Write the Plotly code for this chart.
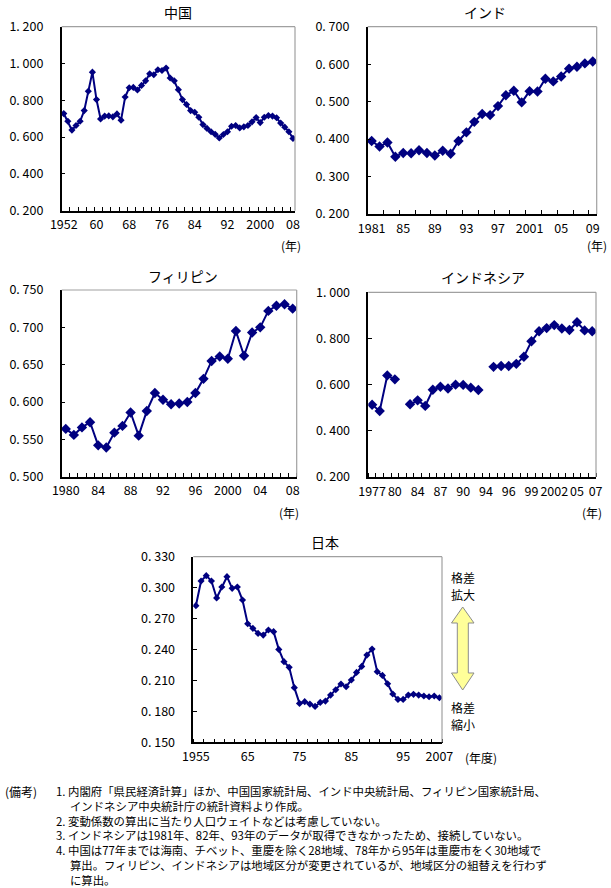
import plotly.graph_objects as go

W, H = 611, 888
NAVY = "#000080"
FONT = "Noto Sans CJK JP"

# ---------------- data ----------------
china_years = list(range(1952, 2009))
china_cv = [0.728, 0.686, 0.638, 0.663, 0.686, 0.744, 0.849, 0.953, 0.804, 0.699,
            0.714, 0.715, 0.710, 0.726, 0.692, 0.818, 0.868, 0.870, 0.856, 0.881,
            0.906, 0.944, 0.939, 0.966, 0.962, 0.975,
            0.921, 0.906, 0.858, 0.804, 0.777, 0.744, 0.735, 0.708, 0.668, 0.647,
            0.629, 0.615, 0.595,
            0.614, 0.629, 0.659, 0.663, 0.650, 0.656, 0.663, 0.683, 0.706, 0.679,
            0.708, 0.717, 0.714, 0.705, 0.676, 0.654, 0.629, 0.593]
china_tickvals = [1952, 1960, 1968, 1976, 1984, 1992, 2000, 2008]
china_ticktext = ["1952", "60", "68", "76", "84", "92", "2000", "08"]

india_years = list(range(1981, 2010))
india_cv = [0.395, 0.380, 0.391, 0.353, 0.363, 0.362, 0.370, 0.363, 0.356, 0.369,
            0.361, 0.395, 0.418, 0.446, 0.467, 0.464, 0.488, 0.517, 0.529, 0.498,
            0.528, 0.527, 0.561, 0.554, 0.567, 0.588, 0.593, 0.602, 0.607]
india_tickvals = [1981, 1985, 1989, 1993, 1997, 2001, 2005, 2009]
india_ticktext = ["1981", "85", "89", "93", "97", "2001", "05", "09"]

phil_years = list(range(1980, 2009))
phil_cv = [0.564, 0.556, 0.566, 0.573, 0.542, 0.539, 0.559, 0.568, 0.586, 0.555,
           0.588, 0.612, 0.603, 0.597, 0.598, 0.600, 0.612, 0.631, 0.655, 0.661,
           0.658, 0.695, 0.662, 0.693, 0.700, 0.722, 0.729, 0.731, 0.725]
phil_tickvals = [1980, 1984, 1988, 1992, 1996, 2000, 2004, 2008]
phil_ticktext = ["1980", "84", "88", "92", "96", "2000", "04", "08"]

# Indonesia: one category slot per observation; None = missing data (not connected)
indo_slots = list(range(30))
indo_cv = [0.513, 0.486, 0.640, 0.623, None,
           0.515, 0.532, 0.508, 0.578, 0.591, 0.583, 0.600, 0.599, 0.587, 0.577,
           None,
           0.677, 0.681, 0.681, 0.690, 0.721, 0.788, 0.831, 0.845, 0.858, 0.843,
           0.837, 0.870, 0.835, 0.831]
indo_tickvals = [0, 3, 6, 9, 12, 15, 18, 21, 24, 27, 29.45]
indo_ticktext = ["1977", "80", "84", "87", "90", "94", "96", "99", "2002", "05", "07"]

japan_slots = list(range(48))
japan_cv = [0.2825, 0.3064, 0.3116, 0.3064, 0.2900, 0.3006, 0.3106, 0.2993, 0.3006, 0.2880,
            0.2650, 0.2605, 0.2556, 0.2540, 0.2589, 0.2573, 0.2401, 0.2282, 0.2227, 0.2030,
            0.1877, 0.1894, 0.1871, 0.1848, 0.1887, 0.1900, 0.1958, 0.2010, 0.2065, 0.2039,
            0.2104, 0.2178, 0.2236, 0.2346, 0.2404, 0.2185, 0.2149, 0.2068, 0.1968, 0.1916,
            0.1916, 0.1958, 0.1965, 0.1958, 0.1949, 0.1942, 0.1949, 0.1932]
japan_tickvals = [0, 10, 20, 30, 40, 47]
japan_ticktext = ["1955", "65", "75", "85", "95", "2007"]

notes_head = "(備考)"
notes_lines = [
    "1. 内閣府「県民経済計算」ほか、中国国家統計局、インド中央統計局、フィリピン国家統計局、",
    "　 インドネシア中央統計庁の統計資料より作成。",
    "2. 変動係数の算出に当たり人口ウェイトなどは考慮していない。",
    "3. インドネシアは1981年、82年、93年のデータが取得できなかったため、接続していない。",
    "4. 中国は77年までは海南、チベット、重慶を除く28地域、78年から95年は重慶市をく30地域で",
    "　 算出。フィリピン、インドネシアは地域区分が変更されているが、地域区分の組替えを行わず",
    "　 に算出。",
]


def px(x):
    return x / W


def py(y):
    return 1 - y / H


panels = [
    dict(title="中国", x=china_years, y=china_cv, box=(61.7, 26.7, 295.0, 210.7),
         yr=(0.2, 1.2), dy=0.2, tv=china_tickvals, tt=china_ticktext, md=2, ms=5.5,
         unit="(年)", upos=(291, 246), tpos=(178, 12)),
    dict(title="インド", x=india_years, y=india_cv, box=(367.7, 26.7, 596.7, 214.0),
         yr=(0.2, 0.7), dy=0.1, tv=india_tickvals, tt=india_ticktext, md=2, ms=8,
         unit="(年)", upos=(597, 245), tpos=(485, 12)),
    dict(title="フィリピン", x=phil_years, y=phil_cv, box=(61.7, 290.0, 296.7, 476.7),
         yr=(0.5, 0.75), dy=0.05, tv=phil_tickvals, tt=phil_ticktext, md=1, ms=8,
         unit="(年)", upos=(289, 512), tpos=(183, 276)),
    dict(title="インドネシア", x=indo_slots, y=indo_cv, box=(368.3, 292.3, 596.0, 477.0),
         yr=(0.2, 1.0), dy=0.2, tv=indo_tickvals, tt=indo_ticktext, md=1, ms=8,
         unit="(年)", upos=(592, 512), tpos=(483, 277)),
    dict(title="日本", x=japan_slots, y=japan_cv, box=(193.3, 556.7, 442.0, 742.3),
         yr=(0.15, 0.33), dy=0.03, tv=japan_tickvals, tt=japan_ticktext, md=2, ms=5.5,
         unit="(年度)", upos=(481, 757), tpos=(325, 542)),
]

fig = go.Figure()
annotations = []
shapes = []
layout = {}

for i, p in enumerate(panels, start=1):
    sx = "" if i == 1 else str(i)
    l, t, r, b = p["box"]
    fig.add_trace(go.Scatter(
        x=p["x"], y=p["y"], mode="lines+markers", connectgaps=False,
        line=dict(color=NAVY, width=2),
        marker=dict(symbol="diamond", size=p["ms"], color=NAVY),
        xaxis="x" + sx, yaxis="y" + sx, showlegend=False, hoverinfo="skip"))
    x0, x1 = p["x"][0], p["x"][-1]
    yt = [round(p["yr"][0] + k * p["dy"], 3)
          for k in range(int(round((p["yr"][1] - p["yr"][0]) / p["dy"])) + 1)]
    layout["xaxis" + sx] = dict(
        domain=[px(l), px(r)], anchor="y" + sx, range=[x0 - 0.5, x1 + 0.5],
        tickmode="array", tickvals=p["tv"], ticktext=p["tt"], ticks="", tickangle=0,
        showline=True, linecolor="black", linewidth=1.5, showgrid=False, zeroline=False,
        minor=dict(tickmode="linear", tick0=x0 - 0.5, dtick=p["md"], ticks="inside",
                   ticklen=4, tickcolor="black", tickwidth=1, showgrid=False),
        tickfont=dict(family=FONT, size=12.5, color="black"), ticklabelstandoff=2,
        automargin=False, fixedrange=True)
    layout["yaxis" + sx] = dict(
        domain=[py(b), py(t)], anchor="x" + sx, range=list(p["yr"]),
        tickmode="array", tickvals=yt, ticktext=[f"{v:.3f}".replace(".", ". ") for v in yt],
        ticks="inside", ticklen=4, tickcolor="black",
        showline=True, linecolor="black", linewidth=1.5, showgrid=False, zeroline=False,
        tickfont=dict(family=FONT, size=12.5, color="black"), ticklabelstandoff=14,
        automargin=False, fixedrange=True)
    # grey top / right frame
    shapes.append(dict(type="line", xref="paper", yref="paper",
                       x0=px(l), x1=px(r), y0=py(t), y1=py(t),
                       line=dict(color="#A0A0A0", width=1.2)))
    shapes.append(dict(type="line", xref="paper", yref="paper",
                       x0=px(r), x1=px(r), y0=py(t), y1=py(b),
                       line=dict(color="#A0A0A0", width=1.2)))
    annotations.append(dict(text=p["title"], x=px(p["tpos"][0]), y=py(p["tpos"][1]),
                            xref="paper", yref="paper", xanchor="center", yanchor="middle",
                            showarrow=False, font=dict(family=FONT, size=14, color="black")))
    annotations.append(dict(text=p["unit"], x=px(p["upos"][0]), y=py(p["upos"][1]),
                            xref="paper", yref="paper", xanchor="center", yanchor="middle",
                            showarrow=False, font=dict(family=FONT, size=12, color="black")))

# double arrow (格差拡大 / 縮小)
pts = [(462.7, 607), (474, 623), (468.3, 623), (468.3, 673), (474, 673), (462.7, 690),
       (451.5, 673), (457.3, 673), (457.3, 623), (451.5, 623)]
path = "M " + " L ".join(f"{px(x):.5f},{py(y):.5f}" for x, y in pts) + " Z"
shapes.append(dict(type="path", xref="paper", yref="paper", path=path,
                   fillcolor="#FFFF99", line=dict(color="#8C8C8C", width=1)))
for txt, yy in [("格差", 577), ("拡大", 594), ("格差", 707), ("縮小", 724)]:
    annotations.append(dict(text=txt, x=px(463), y=py(yy), xref="paper", yref="paper",
                            xanchor="center", yanchor="middle", showarrow=False,
                            borderpad=0, font=dict(family=FONT, size=12, color="black")))

# notes
annotations.append(dict(text=notes_head, x=px(3), y=py(791), xref="paper", yref="paper",
                        xanchor="left", yanchor="middle", showarrow=False,
                        font=dict(family=FONT, size=12, color="black")))
annotations.append(dict(text="<br>".join(notes_lines), x=px(55), y=py(782), xref="paper",
                        yref="paper", xanchor="left", yanchor="top", align="left",
                        borderpad=0, showarrow=False,
                        font=dict(family=FONT, size=11.4, color="black")))

fig.update_layout(
    width=W, height=H, margin=dict(l=0, r=0, t=0, b=0, autoexpand=False),
    paper_bgcolor="white", plot_bgcolor="white",
    font=dict(family=FONT, color="black"),
    showlegend=False, annotations=annotations, shapes=shapes, **layout)

fig.write_html("out.html")
